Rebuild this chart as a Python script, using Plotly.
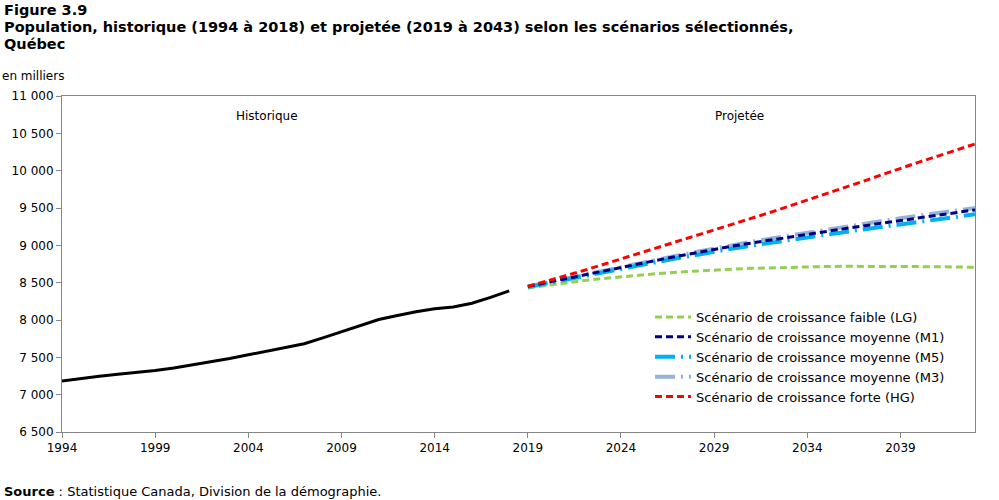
import plotly.graph_objects as go

hist_years = list(range(1994, 2019))
hist_values = [7183, 7219, 7247, 7274, 7297, 7323, 7357, 7397, 7441, 7485, 7534,
               7582, 7632, 7683, 7761, 7843, 7929, 8006, 8061, 8111, 8150, 8175,
               8225, 8302, 8390]

proj_years = list(range(2019, 2044))
lg_values = [8430, 8465, 8498, 8528, 8555, 8580, 8602, 8622, 8640, 8656, 8670, 8682,
             8692, 8700, 8707, 8712, 8716, 8719, 8720, 8720, 8719, 8717, 8714, 8710, 8705]
m1_values = [8450, 8502, 8554, 8605, 8656, 8706, 8755, 8804, 8852, 8900, 8948, 8990,
             9031, 9071, 9110, 9148, 9186, 9223, 9260, 9296, 9332, 9368, 9404, 9440, 9475]
m5_values = [8440, 8490, 8540, 8590, 8638, 8686, 8733, 8780, 8826, 8872, 8917, 8957,
             8996, 9034, 9071, 9107, 9143, 9178, 9213, 9247, 9281, 9315, 9348, 9381, 9415]
m3_values = [8450, 8503, 8556, 8608, 8660, 8711, 8762, 8812, 8862, 8911, 8960, 9004,
             9047, 9089, 9130, 9170, 9210, 9249, 9288, 9326, 9364, 9398, 9432, 9466, 9500]
hg_values = [8450, 8518, 8590, 8663, 8740, 8818, 8893, 8968, 9043, 9120, 9198, 9278,
             9358, 9440, 9522, 9604, 9688, 9773, 9858, 9945, 10035, 10115, 10195, 10275, 10357]

x_ticks = [1994, 1999, 2004, 2009, 2014, 2019, 2024, 2029, 2034, 2039]
y_ticks = [6500, 7000, 7500, 8000, 8500, 9000, 9500, 10000, 10500, 11000]
y_tick_labels = ["6 500", "7 000", "7 500", "8 000", "8 500", "9 000", "9 500",
                 "10 000", "10 500", "11 000"]

names = ["Scénario de croissance faible (LG)",
         "Scénario de croissance moyenne (M1)",
         "Scénario de croissance moyenne (M5)",
         "Scénario de croissance moyenne (M3)",
         "Scénario de croissance forte (HG)"]

FONT = "DejaVu Sans, Verdana, sans-serif"

fig = go.Figure()
fig.add_trace(go.Scatter(x=hist_years, y=hist_values, mode="lines",
                         line=dict(color="black", width=3), showlegend=False,
                         name="Historique"))
fig.add_trace(go.Scatter(x=proj_years, y=lg_values, mode="lines", name=names[0],
                         line=dict(color="#92D050", width=3, dash="7px,4px"),
                         legendrank=1))
fig.add_trace(go.Scatter(x=proj_years, y=m3_values, mode="lines", name=names[3],
                         line=dict(color="#95B3D7", width=4, dash="20px,6px,2px,6px"),
                         legendrank=4))
fig.add_trace(go.Scatter(x=proj_years, y=m5_values, mode="lines", name=names[2],
                         line=dict(color="#00B0F0", width=4, dash="20px,6px,2px,6px"),
                         legendrank=3))
fig.add_trace(go.Scatter(x=proj_years, y=m1_values, mode="lines", name=names[1],
                         line=dict(color="#000080", width=3, dash="7px,4px"),
                         legendrank=2))
fig.add_trace(go.Scatter(x=proj_years, y=hg_values, mode="lines", name=names[4],
                         line=dict(color="#FF0000", width=3, dash="7px,4px"),
                         legendrank=5))

L, R, T, B = 62, 24, 96, 68
W, H = 999, 500
pw, ph = W - L - R, H - T - B

def px(x):
    return (x - L) / pw

def py(y):
    return (H - B - y) / ph

fig.update_layout(
    width=W, height=H,
    margin=dict(l=L, r=R, t=T, b=B, pad=0),
    paper_bgcolor="white", plot_bgcolor="white",
    font=dict(family=FONT, size=12, color="black"),
    xaxis=dict(range=[1994, 2043], tickvals=x_ticks, ticktext=[str(v) for v in x_ticks],
               showgrid=False, zeroline=False, showline=True, linecolor="#868686",
               linewidth=1, mirror=True, ticks="outside", ticklen=5, tickcolor="#868686",
               tickfont=dict(family=FONT, size=12)),
    yaxis=dict(range=[6500, 11000], tickvals=y_ticks, ticktext=y_tick_labels,
               showgrid=False, zeroline=False, showline=True, linecolor="#868686",
               linewidth=1, mirror=True, ticks="outside", ticklen=5, tickcolor="#868686",
               tickfont=dict(family=FONT, size=12)),
    legend=dict(x=px(650), y=py(302), xanchor="left", yanchor="top",
                bgcolor="rgba(0,0,0,0)", font=dict(family=FONT, size=13),
                tracegroupgap=0, itemwidth=36),
    showlegend=True,
)

ann = [
    dict(text="<b>Figure 3.9</b>", x=px(2), y=py(10), size=14.5),
    dict(text="<b>Population, historique (1994 à 2018) et projetée (2019 à 2043) selon les scénarios sélectionnés,</b>",
         x=px(2), y=py(27), size=14.5),
    dict(text="<b>Québec</b>", x=px(2), y=py(44), size=14.5),
    dict(text="en milliers", x=px(0), y=py(76), size=12),
    dict(text="<b>Source</b> : Statistique Canada, Division de la démographie.",
         x=px(2), y=py(491), size=13),
]
for a in ann:
    fig.add_annotation(text=a["text"], x=a["x"], y=a["y"], xref="paper", yref="paper",
                       xanchor="left", yanchor="middle", showarrow=False,
                       font=dict(family=FONT, size=a["size"], color="black"))

fig.add_annotation(text="Historique", x=px(267), y=py(116), xref="paper", yref="paper",
                   xanchor="center", yanchor="middle", showarrow=False,
                   font=dict(family=FONT, size=12))
fig.add_annotation(text="Projetée", x=px(739), y=py(116), xref="paper", yref="paper",
                   xanchor="center", yanchor="middle", showarrow=False,
                   font=dict(family=FONT, size=12))

fig.write_html("out.html")
